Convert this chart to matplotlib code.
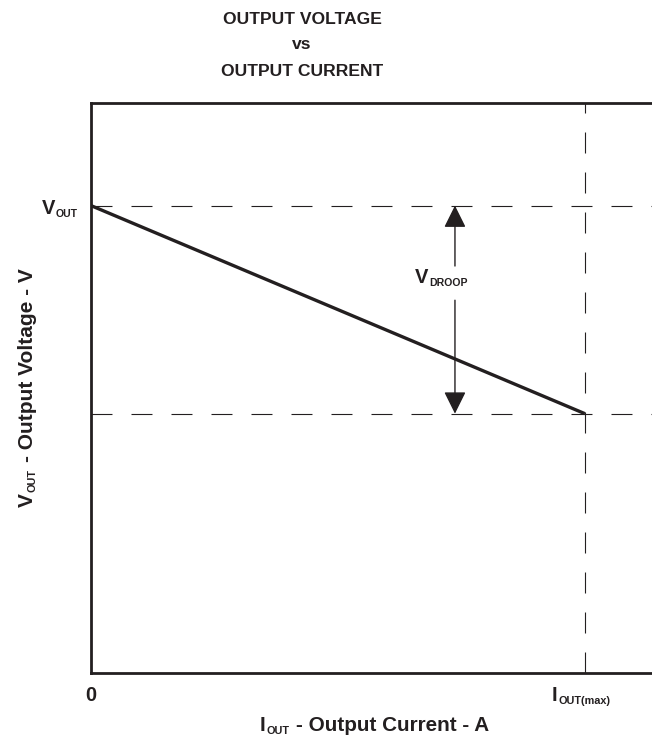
import matplotlib
matplotlib.use("Agg")
import matplotlib.pyplot as plt

# --- data (arbitrary units, as drawn in the reference) ---
current = [0.0, 1.0]            # 0 .. I_OUT(max)
voltage = [0.82, 0.455]         # V_OUT droops linearly to full load
v_out = voltage[0]
v_min = voltage[1]
i_max = current[1]
droop_x = 0.737                 # where the V_DROOP arrow sits (fraction of I_OUT(max))

title_lines = ["OUTPUT VOLTAGE", "vs", "OUTPUT CURRENT"]

INK = "#231f20"
plt.rcParams["font.family"] = ["Liberation Sans", "DejaVu Sans"]
plt.rcParams["font.weight"] = "bold"
plt.rcParams["lines.scale_dashes"] = False

W, H = 652, 742
fig = plt.figure(figsize=(W / 100, H / 100), dpi=100)
ax = fig.add_axes([91 / W, 69 / H, 1 - 91 / W, 570 / H])
ax.set_xlim(0, 1.136)
ax.set_ylim(0, 1)
ax.set_xticks([])
ax.set_yticks([])
ax.spines["right"].set_visible(False)
for side in ("left", "top", "bottom"):
    ax.spines[side].set_linewidth(2.0)
    ax.spines[side].set_color(INK)

dash = (0, (15.1, 13.7))
ax.plot([0, 1.136], [v_out, v_out], color=INK, lw=0.8, linestyle=dash)
ax.plot([0, 1.136], [v_min, v_min], color=INK, lw=0.8, linestyle=dash)
ax.plot([i_max, i_max], [0, 1], color=INK, lw=0.8, linestyle=dash)

ax.plot(current, voltage, color=INK, lw=2.4, solid_capstyle="butt")

# droop arrows
arrow = dict(arrowstyle="-|>,head_length=13.7,head_width=6.8", mutation_scale=1,
             color=INK, lw=1.0, shrinkA=0, shrinkB=0)
ax.annotate("", xy=(droop_x, v_out), xytext=(droop_x, 0.714), arrowprops=arrow)
ax.annotate("", xy=(droop_x, v_min), xytext=(droop_x, 0.654), arrowprops=arrow)


def sub_text(x, y, base, sub, rest=None, rotation=0, size=14.5, sub_size=8):
    """Base text + small subscript (+ optional rest), placed in figure pixels."""
    kw = dict(annotation_clip=False, color=INK, fontweight="bold")
    if rotation == 0:
        t = ax.annotate(base, (x, H - y), xycoords="figure pixels",
                        ha="left", va="baseline", fontsize=size, **kw)
        s = ax.annotate(sub, (1, 0), xycoords=t, xytext=(0.5, 0.7),
                        textcoords="offset points", ha="left", va="baseline",
                        fontsize=sub_size, **kw)
        if rest:
            ax.annotate(rest, (1, 0), xycoords=(s, t), xytext=(5, 0),
                        textcoords="offset points", ha="left", va="bottom",
                        fontsize=size, **kw)
    else:
        t = ax.annotate(base, (x, H - y), xycoords="figure pixels", rotation=90,
                        ha="right", va="bottom", fontsize=size, **kw)
        s = ax.annotate(sub, (1, 1), xycoords=t, xytext=(0.7, 0.5),
                        textcoords="offset points", rotation=90,
                        ha="right", va="bottom", fontsize=sub_size, **kw)
        if rest:
            ax.annotate(rest, (1, 1), xycoords=(t, s), xytext=(0, 5),
                        textcoords="offset points", rotation=90,
                        ha="right", va="bottom", fontsize=size, **kw)


sub_text(42, 214, "V", "OUT", sub_size=7.6)
sub_text(415, 283, "V", "DROOP", sub_size=7.6)
sub_text(552, 701, "I", "OUT(max)", sub_size=7.8)
sub_text(260, 731, "I", "OUT", "- Output Current - A", size=14.9, sub_size=7.8)
sub_text(37, 507, "V", "OUT", "- Output Voltage - V", rotation=90, size=15, sub_size=7.8)

ax.annotate("0", xy=(0, 0), xytext=(0, -20.2), textcoords="offset points",
            ha="center", va="baseline", fontsize=14.5, color=INK,
            annotation_clip=False)

for line, base_y in zip(title_lines, [24, 49, 76]):
    fig.text(302 / W, 1 - base_y / H, line, ha="center", va="baseline",
             fontsize=12.6, color=INK, fontweight="bold")

fig.savefig("out.png", dpi=100)
